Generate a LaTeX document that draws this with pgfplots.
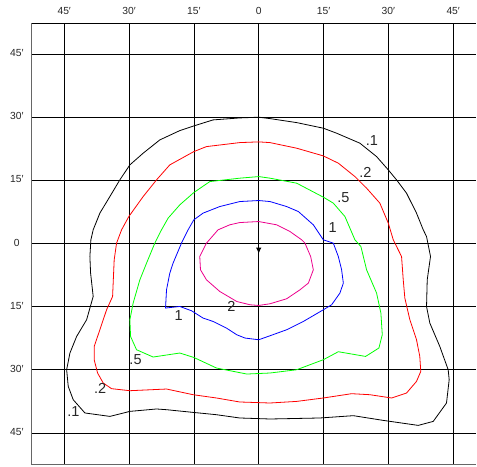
\documentclass[border=0pt]{standalone}
\usepackage{fontspec}
\setmainfont{Liberation Sans}
\usepackage{pgfplots}
\pgfplotsset{compat=1.18}
\usetikzlibrary{arrows.meta}

\begin{document}
\begin{tikzpicture}
\begin{axis}[
    scale only axis, width=445pt, height=441.7pt,
    xmin=-52.5, xmax=50.38, ymin=-52.52, ymax=52.31,
    axis x line*=top, axis y line*=left,
    x axis line style={black, line width=0.7pt},
    y axis line style={black!60, line width=1.1pt},
    xtick={-45,-30,-15,0,15,30,45},
    ytick={-45,-30,-15,0,15,30,45},
    xticklabels={45′,30′,15′,0,15′,30′,45′},
    yticklabels={45′,30′,15′,0,15′,30′,45′},
    major tick length=0pt,
    tick label style={font=\fontsize{10.3}{12}\selectfont, text=black!85},
    xticklabel style={anchor=center, yshift=12.5pt},
    yticklabel style={anchor=center, xshift=-15pt, yshift=1pt},
    grid=major, major grid style={black, line width=0.7pt},
    clip=false,
    every axis plot/.append style={line width=0.8pt},
]
% .1 contour
\addplot[black] coordinates {
(0,30.0) (2.61,29.67) (8.78,28.72) (14.95,27.39) (18.03,26.20) (23.41,23.83)
(27.27,20.65) (29.98,17.49) (31.89,15.12) (34.20,11.96) (36.51,7.22) (38.07,3.25)
(38.83,1.66) (39.75,-3.09) (38.99,-8.62) (38.83,-14.95) (39.59,-18.89) (41.90,-24.45)
(43.84,-29.98) (44.07,-32.35) (43.45,-37.88) (40.38,-42.25) (36.91,-43.20)
(28.82,-42.01) (21.89,-40.89) (14.17,-41.44) (2.61,-41.68) (-4.39,-41.44)
(-9.78,-40.66) (-15.18,-40.11) (-21.33,-39.47) (-23.64,-39.30) (-29.81,-39.87)
(-34.44,-41.06) (-40.21,-40.25) (-42.92,-37.10) (-44.07,-33.94) (-44.44,-29.98)
(-43.68,-26.01) (-42.13,-22.07) (-39.82,-18.11) (-38.30,-12.58) (-38.90,-7.03)
(-39.06,-3.09) (-38.83,0.88) (-38.30,3.25) (-36.75,7.22) (-34.44,11.15)
(-32.13,15.12) (-29.81,18.68) (-26.74,21.45) (-22.88,24.61) (-18.26,26.82)
(-15.02,27.93) (-10.56,29.36) (-4.39,29.83) (0,30.0)};
% .2 contour
\addplot[red] coordinates {
(0,24.14) (2.61,23.97) (8.78,22.64) (14.95,20.81) (18.42,19.08) (22.26,15.90)
(24.96,13.15) (28.03,9.59) (29.98,4.84) (31.13,0.88) (33.05,-3.09) (33.44,-8.62)
(33.81,-12.96) (34.97,-18.11) (36.51,-22.86) (37.27,-26.82) (37.50,-30.38)
(36.51,-32.75) (34.20,-35.51) (30.74,-36.69) (25.72,-35.91) (21.49,-35.67)
(14.95,-36.69) (8.78,-37.50) (2.61,-37.88) (-4.39,-37.64) (-9.78,-36.69)
(-15.18,-35.91) (-21.33,-34.56) (-29.81,-34.96) (-34.04,-34.48) (-35.98,-33.13)
(-37.28,-30.76) (-38.07,-27.60) (-38.07,-24.45) (-36.75,-20.48) (-35.20,-15.74)
(-33.81,-12.58) (-33.44,-3.87) (-32.89,0.09) (-31.73,3.25) (-30.05,6.41)
(-26.74,11.15) (-23.64,15.12) (-20.57,18.68) (-15.02,21.83) (-12.09,23.02)
(-4.39,23.97) (0,24.14)};
% .5 contour
\addplot[green] coordinates {
(0,15.90) (2.61,15.52) (8.78,14.33) (14.95,11.01) (17.26,9.59) (19.95,6.41)
(22.26,0.88) (23.64,-0.71) (24.96,-6.24) (27.27,-11.77) (28.27,-16.52)
(28.59,-21.67) (27.81,-24.82) (24.73,-26.82) (18.42,-25.70) (14.95,-27.60)
(8.78,-29.98) (2.61,-30.76) (-2.77,-31.00) (-9.78,-29.57) (-15.02,-27.06)
(-18.26,-26.01) (-24.43,-26.96) (-28.27,-25.23) (-29.65,-22.07) (-29.81,-18.11)
(-29.05,-14.14) (-27.50,-8.62) (-25.95,-4.65) (-24.04,0.09) (-22.49,3.25)
(-20.96,6.03) (-18.26,9.18) (-15.02,12.10) (-11.32,14.71) (-4.39,15.52) (0,15.90)};
% 1 contour
\addplot[blue] coordinates {
(0,10.21) (2.61,9.97) (6.47,8.78) (9.18,7.59) (12.64,4.44) (14.95,0.88)
(17.26,0.09) (18.42,-3.09) (19.18,-6.24) (19.58,-9.40) (18.79,-11.77)
(16.87,-14.55) (14.95,-15.74) (10.33,-18.51) (6.47,-20.48) (2.61,-21.91)
(0,-22.86) (-3.17,-22.45) (-5.08,-21.67) (-7.47,-20.08) (-10.56,-18.51)
(-12.87,-17.71) (-15.55,-15.97) (-18.26,-14.95) (-21.56,-15.33) (-21.33,-10.99)
(-20.57,-7.03) (-19.81,-4.65) (-17.87,0.09) (-16.34,3.25) (-15.02,5.62)
(-12.87,7.22) (-9.01,8.78) (-4.39,9.97) (0,10.21)};
% 2 contour
\addplot[magenta] coordinates {
(0,5.22) (4.16,4.44) (7.23,2.85) (9.94,0.88) (10.70,0.09) (12.02,-3.09)
(12.64,-6.24) (11.49,-9.40) (9.55,-10.99) (6.47,-13.12) (2.61,-14.31)
(0,-14.71) (-2.01,-14.55) (-5.08,-13.77) (-9.01,-11.39) (-12.09,-8.62)
(-13.47,-6.24) (-13.64,-3.09) (-12.09,0.09) (-9.41,3.25) (-6.70,4.44)
(-4.39,4.98) (0,5.22)};
% centre arrow
\addplot[black, line width=0.8pt, -{Latex[length=6pt,width=5.5pt]}] coordinates {(0,0.3) (0,-2.4)};

% bottom border
\draw[black!60, line width=1.1pt] (rel axis cs:0,0) -- (rel axis cs:1,0);

% contour labels
\begin{scope}[every node/.style={font=\fontsize{14.5}{16}\selectfont, inner sep=0pt, text=black!85}]
\node at (axis cs:26.2,24.5) {.1};
\node at (axis cs:24.7,16.8) {.2};
\node at (axis cs:19.6,10.8) {.5};
\node at (axis cs:17.1,3.9) {1};
\node at (axis cs:-18.5,-17.0) {1};
\node at (axis cs:-6.3,-14.95) {2};
\node at (axis cs:-28.5,-27.6) {.5};
\node at (axis cs:-36.7,-34.5) {.2};
\node at (axis cs:-42.9,-39.9) {.1};
\end{scope}

% page extent
\path (axis cs:-59.86,-53.0) rectangle (axis cs:50.38,57.84);
\end{axis}
\end{tikzpicture}
\end{document}
